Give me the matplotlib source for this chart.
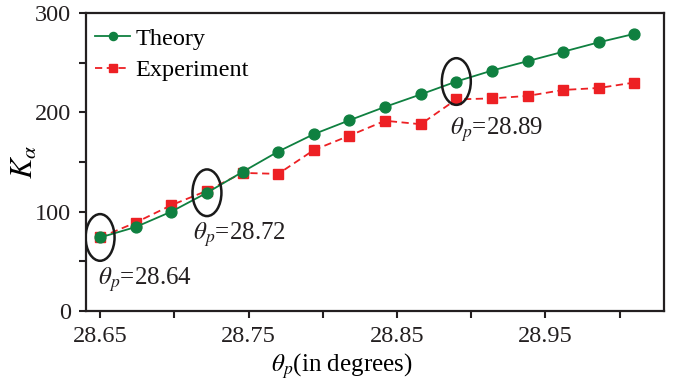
import numpy as np
from matplotlib import pyplot as plt
from matplotlib.patches import Ellipse

# data
theta = [28.650, 28.674, 28.698, 28.722, 28.746, 28.770, 28.794, 28.818,
         28.842, 28.866, 28.890, 28.914, 28.938, 28.962, 28.986, 29.010]
k_theory = [74, 84.5, 100, 119, 140, 160.5, 178, 192,
            205.5, 218, 231, 242, 251.5, 261, 270.5, 279]
k_exp = [74, 89, 106.5, 121, 139, 138, 162, 176.5,
         191.5, 188, 213, 214, 216.5, 222.5, 224.5, 230]

# circled points and their labels
marked = [0, 3, 10]
marked_text = ["28.64", "28.72", "28.89"]
label_pos = [(28.6484, 26), (28.7126, 71.5), (28.886, 177)]

xticks = [28.65, 28.70, 28.75, 28.80, 28.85, 28.90, 28.95, 29.00]
xticklabels = ["28.65", "", "28.75", "", "28.85", "", "28.95", ""]
yticks = [0, 50, 100, 150, 200, 250, 300]
yticklabels = ["0", "", "100", "", "200", "", "300"]

plt.rcParams['font.family'] = ['Liberation Serif', 'DejaVu Serif']
plt.rcParams['mathtext.fontset'] = 'stix'
plt.rcParams['font.size'] = 17.5

fig = plt.figure(figsize=(6.77, 3.82), dpi=100)
ax = fig.add_axes([0.127, 0.186, 0.854, 0.780])

green = '#0f8040'
red = '#ed2024'
ax.plot(theta, k_theory, '-o', color=green, lw=1.3, ms=7.8, label='Theory', zorder=3)
ax.plot(theta, k_exp, '--s', color=red, lw=1.3, ms=7, dashes=(4, 2.5),
        label='Experiment', zorder=2)

for i, txt, (tx, ty) in zip(marked, marked_text, label_pos):
    ell = Ellipse((theta[i], k_theory[i]), 0.0195, 47, fill=False,
                  ec='#1a1a1a', lw=1.8, zorder=4)
    ax.add_patch(ell)
    ax.text(tx, ty, r'$\theta_p$=' + txt, fontsize=18, color='#231f20')

ax.set_xlim(28.6405, 29.030)
ax.set_ylim(0, 300)
ax.set_xticks(xticks)
ax.set_xticklabels(xticklabels)
ax.set_yticks(yticks)
ax.set_yticklabels(yticklabels)
ax.tick_params(direction='out', length=5, width=1.5, colors='#231f20', pad=6)
for s in ax.spines.values():
    s.set_linewidth(1.6)
    s.set_color('#231f20')

ax.set_xlabel(r'$\theta_p$(in degrees)', fontsize=18)
ax.xaxis.set_label_coords(0.442, -0.135)
ax.set_ylabel(r'$K_\alpha$', fontsize=22)
ax.yaxis.set_label_coords(-0.08, 0.5)

ax.legend(loc='upper left', bbox_to_anchor=(0.0, 0.98), frameon=False,
          handlelength=1.45, handletextpad=0.2, borderaxespad=0.0, borderpad=0.37,
          labelspacing=0.38, markerscale=0.75, fontsize=17.5)

fig.savefig('out.png', dpi=100)
